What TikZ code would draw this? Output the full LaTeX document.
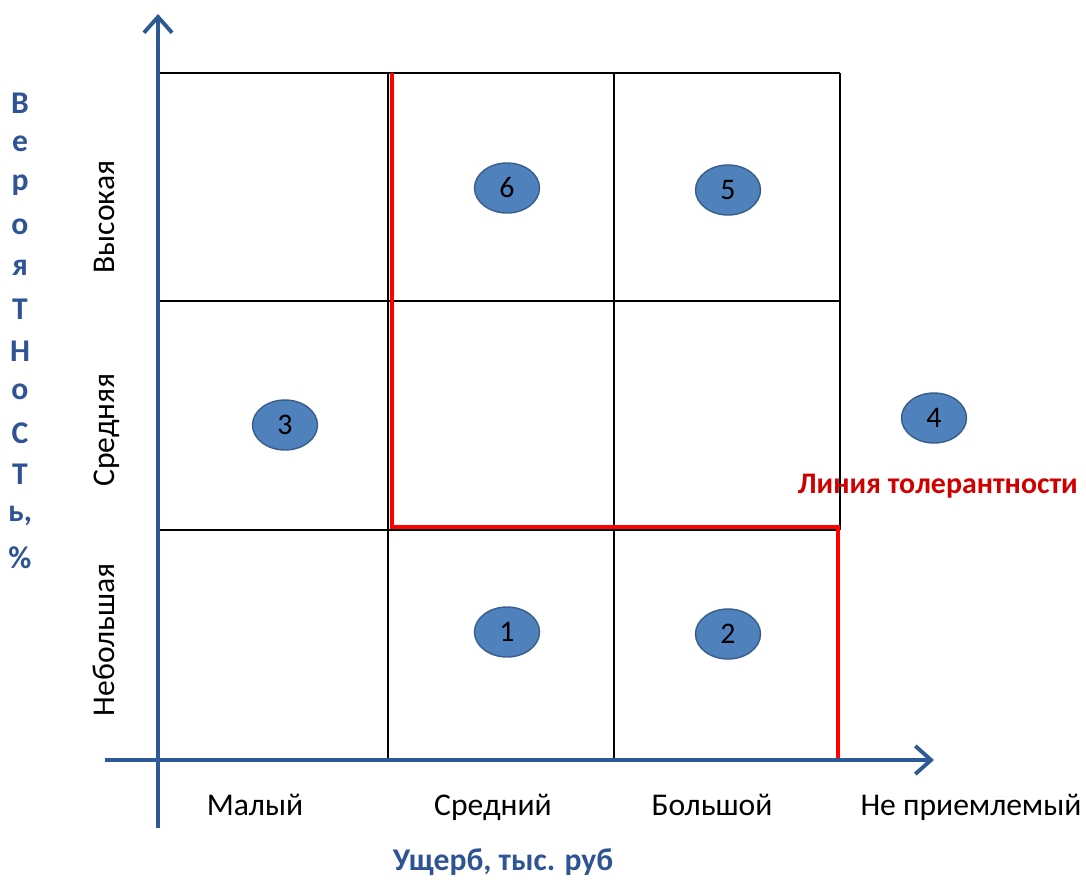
\documentclass[tikz,border=0pt]{standalone}
\usepackage{fontspec}
\setmainfont{Carlito}
\usetikzlibrary{shapes.geometric}
\definecolor{axisblue}{HTML}{2E5A94}
\definecolor{titleblue}{HTML}{2F5496}
\definecolor{dotfill}{HTML}{4F81BD}
\definecolor{dotline}{HTML}{385D8A}
\definecolor{tolred}{HTML}{D00000}
\tikzset{
  axis/.style={axisblue,line width=2.2pt,-{Straight Barb[length=9pt,width=16pt,line width=2.2pt]}},
  cell/.style={black,line width=0.8pt},
  tol/.style={red,line width=2pt},
  dot/.style={ellipse,draw=dotline,fill=dotfill,line width=0.8pt,minimum width=1.3cm,minimum height=1cm,inner sep=0pt,font=\fontsize{17}{17}\selectfont},
  lbl/.style={font=\fontsize{18}{18}\selectfont,text height=12pt,text depth=4pt},
  vlbl/.style={lbl,rotate=90},
  letter/.style={titleblue,font=\bfseries\fontsize{18}{18}\selectfont}
}
\usetikzlibrary{arrows.meta}
\begin{document}
\begin{tikzpicture}[x=0.02cm,y=-0.02cm]
        \useasboundingbox (0,0) rectangle (1086,880);
        % grid
        \draw[cell] (160,73) -- (840,73);
        \draw[cell] (160,301) -- (840,301);
        \draw[cell] (160,530) -- (840,530);
        \draw[cell] (388,73) -- (388,758);
        \draw[cell] (614,73) -- (614,758);
        \draw[cell] (840,73) -- (840,530);
        % tolerance line
        \draw[tol] (392,73) -- (392,527) -- (838,527) -- (838,758);
        % axes
        \draw[axis] (105,760) -- (934,760);
        \draw[axis] (158,828) -- (158,14);
        % risks
        \node[dot] (r6) at (507,188) {6};
        \node[dot] (r5) at (728,190) {5};
        \node[dot] (r3) at (285,425) {3};
        \node[dot] (r4) at (934,418) {4};
        \node[dot] (r1) at (507,632) {1};
        \node[dot] (r2) at (728,634) {2};
        % probability levels
        \node[vlbl] (high) at (107,217) {Высокая};
        \node[vlbl] (mid) at (107,430) {Средняя};
        \node[vlbl] (low) at (107,640) {Небольшая};
        % damage levels
        \node[lbl] (small) at (255,808) {Малый};
        \node[lbl] (medium) at (493,808) {Средний};
        \node[lbl] (large) at (712,808) {Большой};
        \node[lbl] (unacc) at (971,808) {Не приемлемый};
        % titles
        \node[letter] (xtitle) at (503,862) {Ущерб, тыс. руб};
        \node[tolred,anchor=east,font=\bfseries\fontsize{17}{17}\selectfont] (toltext) at (1084,486) {Линия толерантности};
        \foreach \ch [count=\i from 0] in {В,е,р,о,я,Т,Н,о,С,Т,{ь,},\%}
            \node[letter] at (20,103+41.3*\i) {\ch};
    \end{tikzpicture}
\end{document}
